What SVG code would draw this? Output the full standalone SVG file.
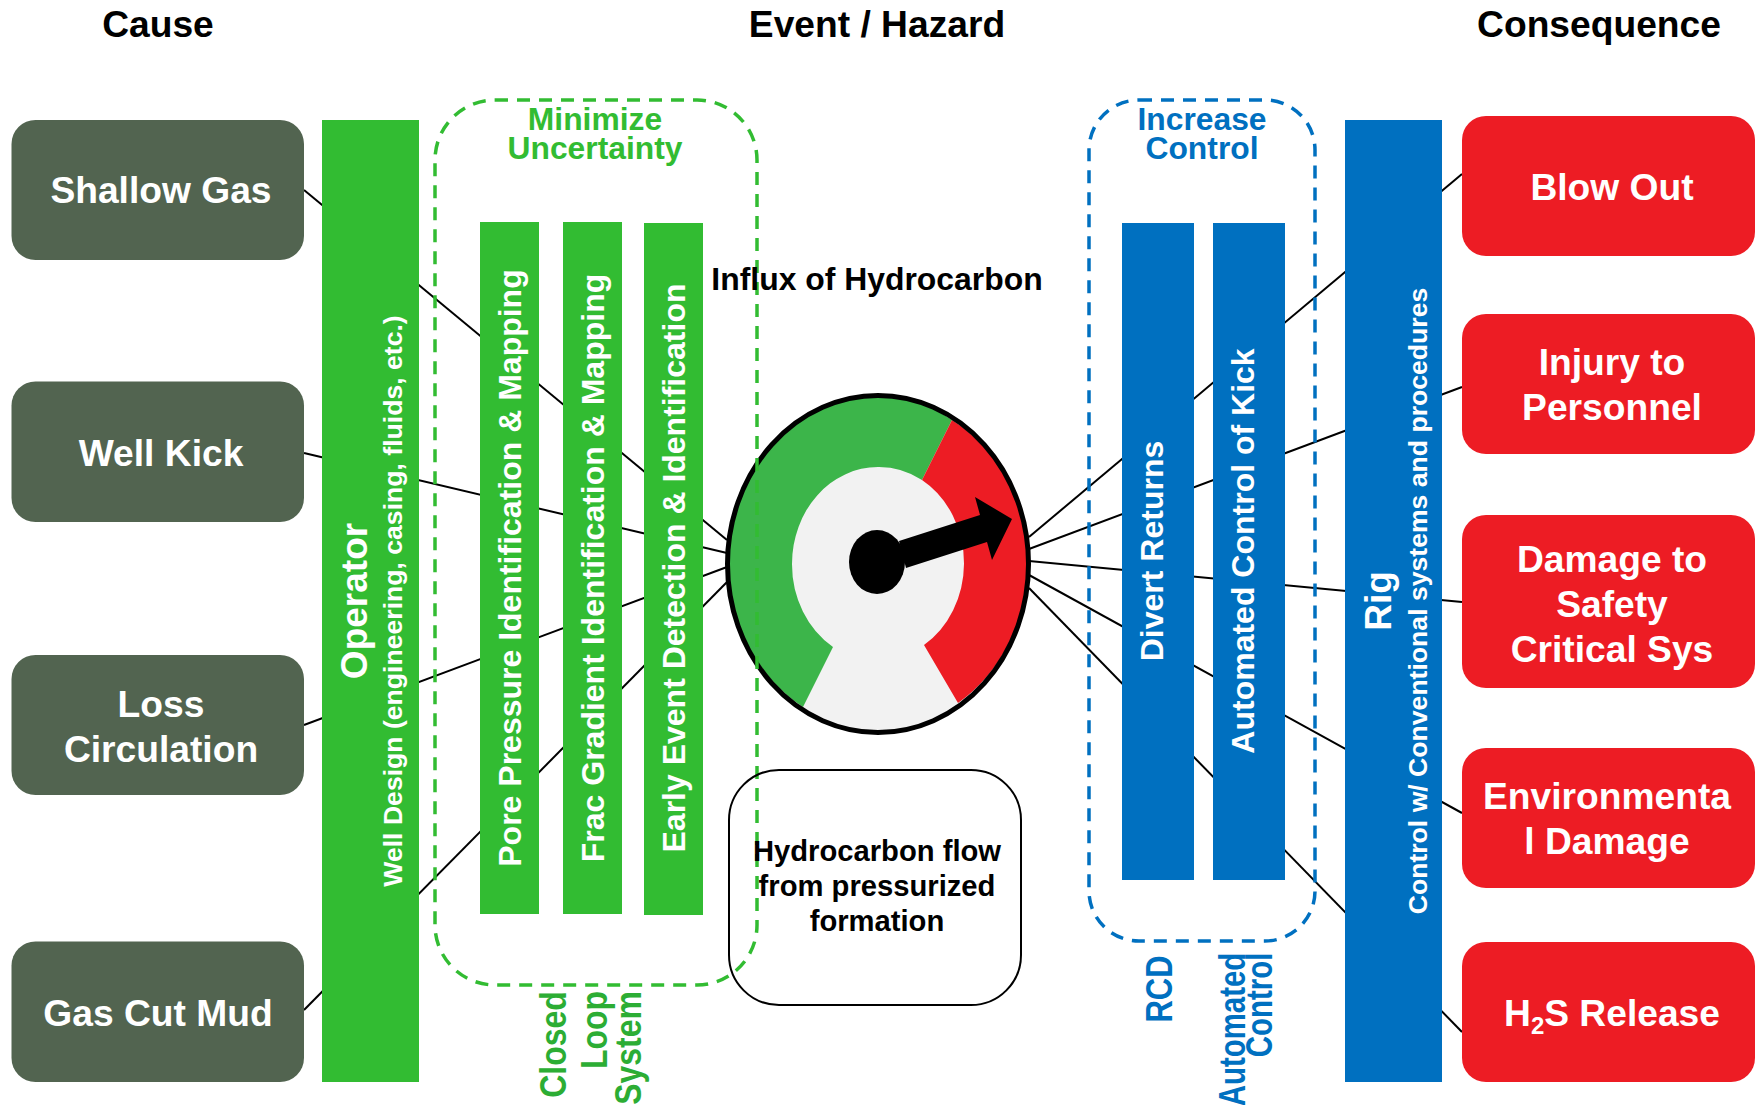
<svg xmlns="http://www.w3.org/2000/svg" width="1758" height="1105" viewBox="0 0 1758 1105">
<style>
text{font-family:"Liberation Sans",Arial,sans-serif;font-weight:700;text-anchor:middle}
.title{font-size:37.2px;fill:#000}
.cause rect{fill:#526450}
.cons rect{fill:#ED1C24}
.nt{font-size:37.2px;fill:#fff}
.g{fill:#32BC32}
.b{fill:#0070C0}
.vt{fill:#fff;font-size:32px}
.w{fill:#fff}
.lbl-g{fill:#32BC32;font-size:31.8px}
.lbl-c{fill:#2CAD34;font-size:31px}
.lbl-b{fill:#0070C0;font-size:31.8px}
.lbl-v{fill:#0070C0;font-size:31px}
.k{fill:#000;font-size:29.2px}
#connectors line{stroke:#000;stroke-width:2}
</style>
<g id="titles">
<text class="title" x="158" y="37">Cause</text>
<text class="title" x="877" y="37">Event / Hazard</text>
<text class="title" x="1599" y="37">Consequence</text>
</g>
<g id="connectors">
<line x1="304" y1="190" x2="727" y2="540"/>
<line x1="304" y1="453" x2="727" y2="553"/>
<line x1="304" y1="725" x2="727" y2="567"/>
<line x1="304" y1="1010" x2="727" y2="582"/>
<line x1="1029" y1="537" x2="1462" y2="174"/>
<line x1="1029" y1="549" x2="1462" y2="387"/>
<line x1="1029" y1="561" x2="1462" y2="602"/>
<line x1="1029" y1="575" x2="1462" y2="813"/>
<line x1="1029" y1="588" x2="1462" y2="1032"/>
</g>
<g id="shallow-gas" class="cause"><rect x="11.5" y="120" width="292.5" height="140" rx="24"/><text class="nt" x="161" y="203">Shallow Gas</text></g>
<g id="well-kick" class="cause"><rect x="11.5" y="381.500" width="292.5" height="140.500" rx="24"/><text class="nt" x="161" y="466">Well Kick</text></g>
<g id="loss-circulation" class="cause"><rect x="11.5" y="655" width="292.5" height="140" rx="24"/><text class="nt" x="161" y="717">Loss</text><text class="nt" x="161" y="762">Circulation</text></g>
<g id="gas-cut-mud" class="cause"><rect x="11.5" y="941.500" width="292.5" height="140.500" rx="24"/><text class="nt" x="158" y="1026">Gas Cut Mud</text></g>
<g id="operator"><rect class="g" x="322" y="120" width="97" height="962"/>
<text class="w" font-size="37" transform="translate(367,601) rotate(-90)">Operator</text>
<text class="w" font-size="26.600" transform="translate(402,601) rotate(-90)">Well Design (engineering, casing, fluids, etc.)</text></g>
<g id="pore"><rect class="g" x="480" y="222" width="59" height="692"/><text class="vt" transform="translate(521,568) rotate(-90)">Pore Pressure Identification &amp; Mapping</text></g>
<g id="frac"><rect class="g" x="563" y="222" width="59" height="692"/><text class="vt" transform="translate(604,568) rotate(-90)">Frac Gradient Identification &amp; Mapping</text></g>
<g id="early"><rect class="g" x="644" y="223" width="59" height="692"/><text class="vt" transform="translate(685,568) rotate(-90)">Early Event Detection &amp; Identification</text></g>
<g id="gauge">
<ellipse cx="878" cy="564" rx="150" ry="168" fill="#F2F2F2"/>
<path d="M952 420A150 168 0 0 0 878 396A150 168 0 0 0 728 564A150 168 0 0 0 803 707L833 647A86 97 0 0 1 792 564A86 97 0 0 1 878 467A86 97 0 0 1 922 480Z" fill="#3CB54A"/>
<path d="M952 420A150 168 0 0 1 1028 564A150 168 0 0 1 958 703L924 645A86 97 0 0 0 964 564A86 97 0 0 0 922 480Z" fill="#ED1C24"/>
<ellipse cx="878" cy="564" rx="150.500" ry="168.500" fill="none" stroke="#000" stroke-width="5"/>
<ellipse cx="877" cy="562" rx="28" ry="32"/>
<path d="M899 541L980 515L975 497L1012 519L992 560L987 542L906 568Z"/>
</g>
<g id="minimize-uncertainty">
<rect x="435" y="100" width="322" height="885" rx="60" fill="none" stroke="#32BC32" stroke-width="3.500" stroke-dasharray="13 9"/>
<text class="lbl-g" x="595" y="130">Minimize</text><text class="lbl-g" x="595" y="159">Uncertainty</text>
</g>
<g id="closed-loop">
<text class="lbl-c" transform="translate(566,1044.500) rotate(-90) scale(1.03,1.18)">Closed</text>
<text class="lbl-c" transform="translate(606.500,1030) rotate(-90) scale(1.03,1.18)">Loop</text>
<text class="lbl-c" transform="translate(641,1048) rotate(-90) scale(1.03,1.18)">System</text>
</g>
<g id="influx"><text style="font-size:31.900px" x="877" y="290">Influx of Hydrocarbon</text></g>
<g id="hydrocarbon-flow"><rect x="729" y="770" width="292" height="235" rx="50" fill="none" stroke="#000" stroke-width="2"/>
<text class="k" x="877" y="861">Hydrocarbon flow</text><text class="k" x="877" y="896">from pressurized</text><text class="k" x="877" y="931">formation</text></g>
<g id="increase-control">
<rect x="1089" y="100" width="226" height="841" rx="50" fill="none" stroke="#0070C0" stroke-width="3.500" stroke-dasharray="13 9"/>
<text class="lbl-b" x="1202" y="130">Increase</text><text class="lbl-b" x="1202" y="159">Control</text>
</g>
<g id="divert"><rect class="b" x="1122" y="223" width="72" height="657"/><text class="vt" transform="translate(1163,551) rotate(-90)">Divert Returns</text></g>
<g id="automated"><rect class="b" x="1213" y="223" width="72" height="657"/><text class="vt" transform="translate(1254,551) rotate(-90)">Automated Control of Kick</text></g>
<g id="rcd-label"><text class="lbl-v" transform="translate(1171.500,989) rotate(-90) scale(1,1.18)">RCD</text></g>
<g id="automated-label"><text class="lbl-v" transform="translate(1244.500,1029.500) rotate(-90) scale(.95,1.18)">Automated</text><text class="lbl-v" transform="translate(1271.500,1005) rotate(-90) scale(.95,1.18)">Control</text></g>
<g id="rig"><rect class="b" x="1345" y="120" width="97" height="962"/>
<text class="w" font-size="37" transform="translate(1391,601) rotate(-90)">Rig</text>
<text class="w" font-size="26.600" transform="translate(1427,601) rotate(-90)">Control w/ Conventional systems and procedures</text></g>
<g id="blow-out" class="cons"><rect x="1462" y="116" width="293" height="140" rx="24"/><text class="nt" x="1612" y="200">Blow Out</text></g>
<g id="injury" class="cons"><rect x="1462" y="314" width="293" height="140" rx="24"/><text class="nt" x="1612" y="375">Injury to</text><text class="nt" x="1612" y="420">Personnel</text></g>
<g id="damage" class="cons"><rect x="1462" y="515" width="293" height="173" rx="24"/><text class="nt" x="1612" y="572">Damage to</text><text class="nt" x="1612" y="617">Safety</text><text class="nt" x="1612" y="662">Critical Sys</text></g>
<g id="environmental" class="cons"><rect x="1462" y="748" width="293" height="140" rx="24"/><text class="nt" x="1607" y="809">Environmenta</text><text class="nt" x="1607" y="854">l Damage</text></g>
<g id="h2s" class="cons"><rect x="1462" y="942" width="293" height="140" rx="24"/><text class="nt" x="1612" y="1026">H<tspan font-size="24" dy="8">2</tspan><tspan dy="-8">S Release</tspan></text></g>
</svg>
